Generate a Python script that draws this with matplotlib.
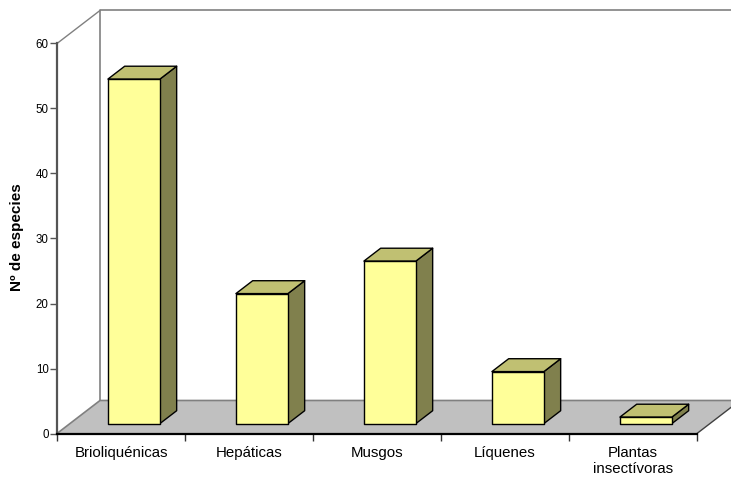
import matplotlib
matplotlib.use('Agg')
import matplotlib.pyplot as plt
from matplotlib.patches import Polygon

plt.rcParams['font.family'] = ['Liberation Sans', 'DejaVu Sans']

# Datos: número de especies por grupo
grupos = ['Brioliquénicas', 'Hepáticas', 'Musgos', 'Líquenes', 'Plantas\ninsectívoras']
especies = [53, 20, 25, 8, 1]
marcas_y = [0, 10, 20, 30, 40, 50, 60]

# Colores estilo Excel 3D
COLOR_FRENTE = '#FFFF99'
COLOR_TECHO = '#C0C072'
COLOR_LADO = '#80804D'
COLOR_SUELO = '#C0C0C0'
COLOR_BORDE = '#808080'

# Profundidad de la perspectiva (en unidades de categoría y de valor)
PROF_X = 0.336
PROF_Y = 5.08
ANCHO_BARRA = 0.406
FRAC_BARRA = 0.39     # fondo de la barra respecto a la profundidad total
FRAC_INICIO = 0.30    # desplazamiento del frente de la barra


def dibujar_barra(ax, centro, valor):
    """Dibuja una barra 3D (frente, techo y lateral)."""
    x0 = centro - ANCHO_BARRA / 2 + FRAC_INICIO * PROF_X
    x1 = x0 + ANCHO_BARRA
    y0 = FRAC_INICIO * PROF_Y
    y1 = y0 + valor
    dx = FRAC_BARRA * PROF_X
    dy = FRAC_BARRA * PROF_Y

    frente = [(x0, y0), (x1, y0), (x1, y1), (x0, y1)]
    techo = [(x0, y1), (x1, y1), (x1 + dx, y1 + dy), (x0 + dx, y1 + dy)]
    lado = [(x1, y0), (x1 + dx, y0 + dy), (x1 + dx, y1 + dy), (x1, y1)]

    for caras, color in ((lado, COLOR_LADO), (techo, COLOR_TECHO), (frente, COLOR_FRENTE)):
        ax.add_patch(Polygon(caras, closed=True, facecolor=color, edgecolor='black',
                             linewidth=1.0, joinstyle='round', clip_on=False, zorder=5))


def dibujar_grafico(save_path='out.png'):
    fig = plt.figure(figsize=(7.31, 4.79), dpi=100)
    ancho, alto = 731, 479
    ax = fig.add_axes([57 / ancho, (alto - 433.5) / alto, 640 / ancho, 390 / alto])

    n = len(grupos)
    ymax = marcas_y[-1]
    ax.set_xlim(0, n)
    ax.set_ylim(0, ymax)
    ax.patch.set_visible(False)

    # Pared del fondo
    pared = [(PROF_X, PROF_Y), (n + PROF_X, PROF_Y), (n + PROF_X, ymax + PROF_Y), (PROF_X, ymax + PROF_Y)]
    ax.add_patch(Polygon(pared, closed=True, facecolor='white', edgecolor='none',
                         clip_on=False, zorder=0))
    ax.plot([PROF_X, PROF_X, n + PROF_X + 0.2], [PROF_Y, ymax + PROF_Y, ymax + PROF_Y],
            color=COLOR_BORDE, linewidth=1.2, clip_on=False, zorder=1)
    ax.plot([0, PROF_X], [ymax, ymax + PROF_Y], color=COLOR_BORDE, linewidth=1.0,
            clip_on=False, zorder=1)

    # Suelo gris
    suelo = [(0, 0), (n, 0), (n + PROF_X, PROF_Y), (PROF_X, PROF_Y)]
    ax.add_patch(Polygon(suelo, closed=True, facecolor=COLOR_SUELO, edgecolor='none',
                         clip_on=False, zorder=2))
    ax.plot([0, PROF_X, n + PROF_X], [0, PROF_Y, PROF_Y], color=COLOR_BORDE,
            linewidth=1.2, clip_on=False, zorder=3)
    ax.plot([n, n + PROF_X], [0, PROF_Y], color='#404040', linewidth=1.0,
            clip_on=False, zorder=3)

    for i, valor in enumerate(especies):
        dibujar_barra(ax, i + 0.5, valor)

    # Ejes
    for lado in ('top', 'right'):
        ax.spines[lado].set_visible(False)
    ax.spines['left'].set_color('#555555')
    ax.spines['left'].set_linewidth(1.6)
    ax.spines['bottom'].set_color('black')
    ax.spines['bottom'].set_linewidth(1.6)
    ax.spines['left'].set_zorder(6)
    ax.spines['bottom'].set_zorder(6)

    ax.set_yticks(marcas_y)
    ax.tick_params(axis='y', direction='out', length=5, width=1, color='#555555',
                   labelsize=8.3, pad=1)

    ax.set_xticks(range(n + 1))
    ax.set_xticklabels([])
    ax.set_xticks([i + 0.5 for i in range(n)], minor=True)
    ax.set_xticklabels(grupos, minor=True, fontsize=10.8)
    ax.tick_params(axis='x', which='major', direction='out', length=5, width=1, color='#333333')
    ax.tick_params(axis='x', which='minor', length=0, pad=9)

    fig.text(17 / ancho, 1 - 237 / alto, 'Nº de especies', rotation=90, fontsize=11,
             fontweight='bold', ha='center', va='center')

    fig.savefig(save_path, dpi=100)
    plt.close(fig)


if __name__ == '__main__':
    dibujar_grafico('out.png')
